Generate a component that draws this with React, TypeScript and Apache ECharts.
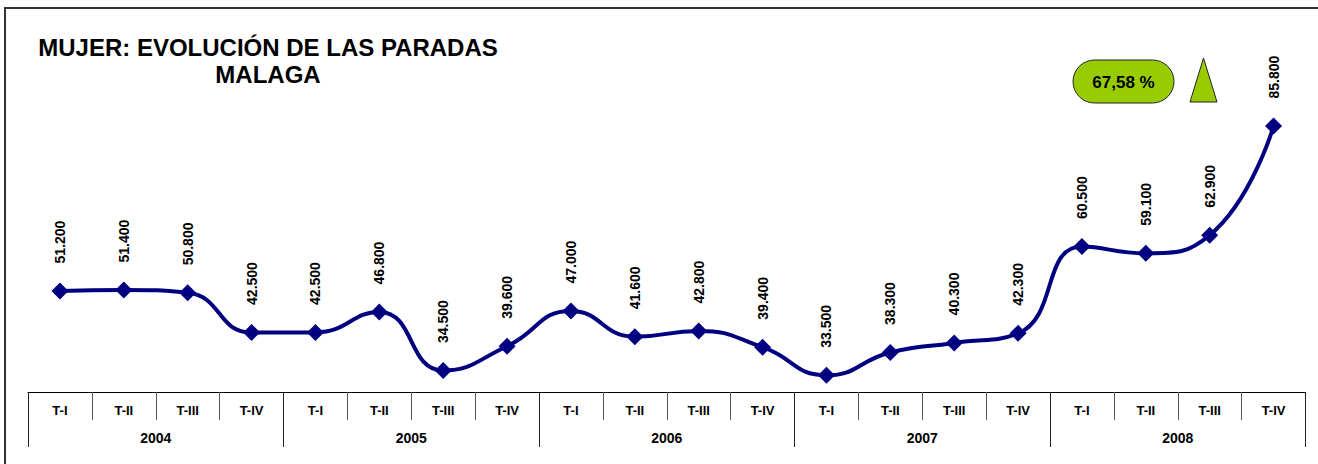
import React, { useEffect, useRef } from "react";
import * as echarts from "echarts";

const quarters = [
  "T-I", "T-II", "T-III", "T-IV",
  "T-I", "T-II", "T-III", "T-IV",
  "T-I", "T-II", "T-III", "T-IV",
  "T-I", "T-II", "T-III", "T-IV",
  "T-I", "T-II", "T-III", "T-IV",
];
const years = ["2004", "2005", "2006", "2007", "2008"];
const values = [
  51200, 51400, 50800, 42500,
  42500, 46800, 34500, 39600,
  47000, 41600, 42800, 39400,
  33500, 38300, 40300, 42300,
  60500, 59100, 62900, 85800,
];
const titleLine1 = "MUJER: EVOLUCIÓN DE LAS PARADAS";
const titleLine2 = "MALAGA";
const badgeText = "67,58 %";

const FONT = "'Liberation Sans', Arial, Helvetica, sans-serif";

function fmt(v: number): string {
  return String(Math.round(v)).replace(/\B(?=(\d{3})+(?!\d))/g, ".");
}

export default function App() {
  const ref = useRef<HTMLDivElement>(null);
  useEffect(() => {
    if (!ref.current) return;
    const chart = echarts.init(ref.current, undefined, { renderer: "svg" });
    chart.setOption({
      animation: false,
      backgroundColor: "#ffffff",
      textStyle: { fontFamily: FONT },
      grid: { left: 28, right: 12.5, top: 106, bottom: 72, containLabel: false },
      xAxis: [
        {
          type: "category",
          data: quarters,
          position: "bottom",
          boundaryGap: true,
          axisLine: { show: true, lineStyle: { color: "#000", width: 1 } },
          axisTick: { show: true, interval: 0, length: 28, lineStyle: { color: "#555", width: 1 } },
          axisLabel: {
            interval: 0,
            margin: 12,
            color: "#000",
            fontWeight: "bold",
            fontSize: 13,
            fontFamily: FONT,
          },
          splitLine: { show: false },
        },
        {
          type: "category",
          data: years,
          position: "bottom",
          boundaryGap: true,
          axisLine: { show: false },
          axisTick: { show: true, interval: 0, length: 55, lineStyle: { color: "#222", width: 1 } },
          axisLabel: {
            interval: 0,
            margin: 39,
            color: "#000",
            fontWeight: "bold",
            fontSize: 14,
            fontFamily: FONT,
          },
          splitLine: { show: false },
        },
      ],
      yAxis: {
        type: "value",
        min: 30000,
        max: 90000,
        show: false,
        splitLine: { show: false },
      },
      series: [
        {
          type: "line",
          xAxisIndex: 0,
          data: values,
          smooth: 0.5,
          symbol: "diamond",
          symbolSize: 17,
          itemStyle: { color: "#000080" },
          lineStyle: { color: "#000080", width: 4 },
          label: {
            show: true,
            position: "top",
            distance: 19,
            rotate: 90,
            align: "left",
            verticalAlign: "middle",
            color: "#000",
            fontWeight: "bold",
            fontSize: 14,
            fontFamily: FONT,
            formatter: (p: any) => fmt(p.value),
          },
        },
      ],
      graphic: [
        {
          type: "rect",
          shape: { x: 5, y: 8, width: 1340, height: 500 },
          style: { fill: "none", stroke: "#333", lineWidth: 2 },
          silent: true,
          z: 0,
        },
        {
          type: "text",
          x: 268,
          y: 47,
          style: {
            text: titleLine1,
            fill: "#000",
            font: `bold 24px ${FONT}`,
            textAlign: "center",
            textVerticalAlign: "middle",
          },
        },
        {
          type: "text",
          x: 268,
          y: 74,
          style: {
            text: titleLine2,
            fill: "#000",
            font: `bold 24px ${FONT}`,
            textAlign: "center",
            textVerticalAlign: "middle",
          },
        },
        {
          type: "rect",
          shape: { x: 1073, y: 60, width: 101, height: 43, r: 21.5 },
          style: { fill: "#99CC00", stroke: "#222", lineWidth: 1 },
        },
        {
          type: "text",
          x: 1123.5,
          y: 82,
          style: {
            text: badgeText,
            fill: "#000",
            font: `bold 17px ${FONT}`,
            textAlign: "center",
            textVerticalAlign: "middle",
          },
        },
        {
          type: "polygon",
          shape: { points: [[1203.5, 58], [1190, 102], [1217, 102]] },
          style: { fill: "#99CC00", stroke: "#222", lineWidth: 1 },
        },
      ],
    });
    return () => chart.dispose();
  }, []);
  return (
    <div
      ref={ref}
      style={{ position: "absolute", left: 0, top: 0, width: 1318, height: 464 }}
    />
  );
}
